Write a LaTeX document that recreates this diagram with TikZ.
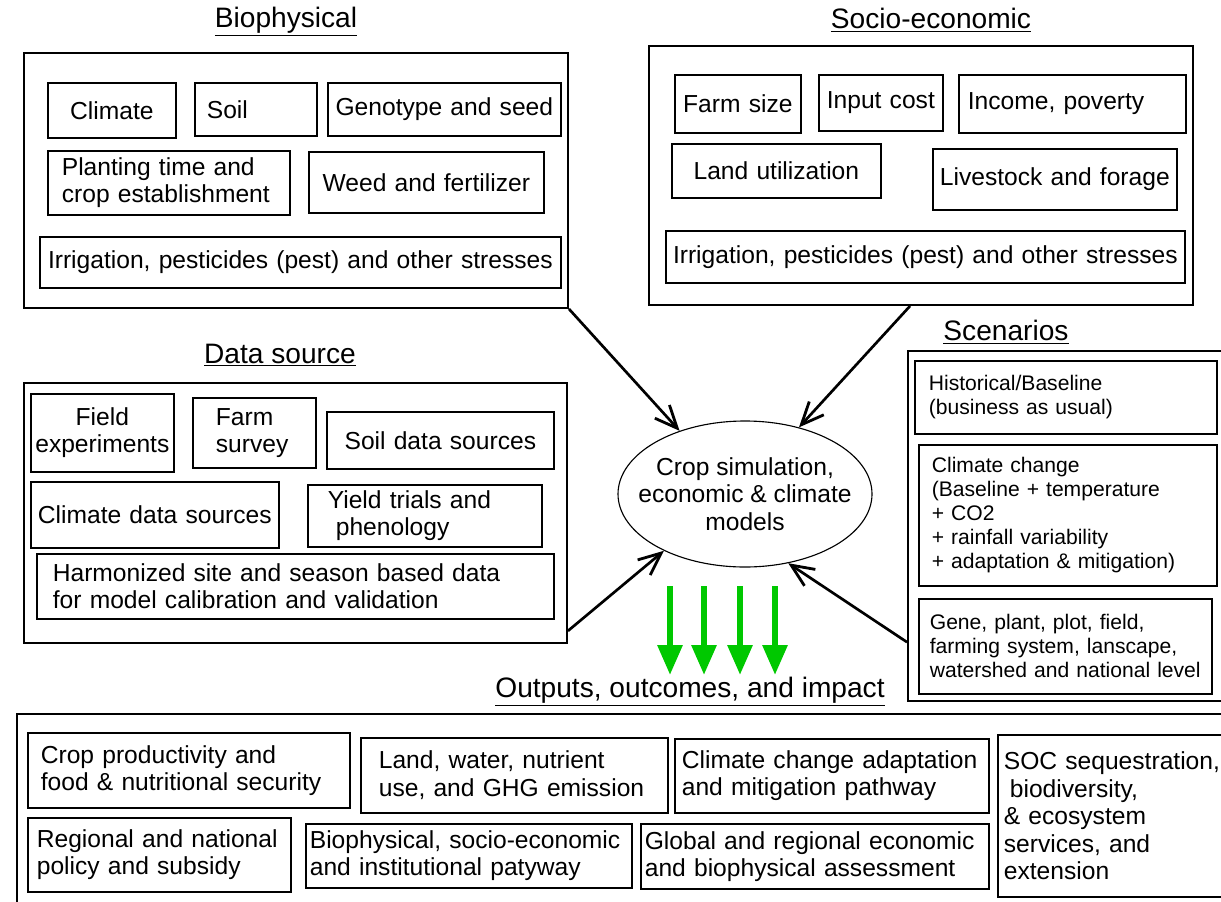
\documentclass[tikz,border=0pt]{standalone}
\usepackage{fontspec}
\setmainfont{Liberation Sans}
\usetikzlibrary{arrows.meta,calc,shapes.geometric}

\definecolor{arrowgreen}{RGB}{0,200,0}
\def\pxu{0.025cm}
\newcommand{\boxfont}{\fontsize{17.5}{19.5}\selectfont}
\newcommand{\scenfont}{\fontsize{15}{17}\selectfont}
\newcommand{\titlefont}{\fontsize{20}{24}\selectfont}

\tikzset{
  outer/.style 2 args={draw, line width=1.4pt, anchor=north west, inner sep=0pt,
    minimum width=#1*\pxu, minimum height=#2*\pxu},
  bx/.style n args={3}{draw, line width=1.2pt, anchor=north west, inner sep=0pt,
    minimum width=#1*\pxu, minimum height=#2*\pxu, text width=(#1-2*#3)*\pxu,
    align=left, font=\boxfont},
  bxc/.style 2 args={draw, line width=1.2pt, anchor=north west, inner sep=0pt,
    minimum width=#1*\pxu, minimum height=#2*\pxu, text width=(#1-4)*\pxu,
    align=center, font=\boxfont},
  ttl/.style={font=\titlefont, inner sep=0pt},
  feed/.style={line width=1.9pt, -{Straight Barb[length=16pt, width=14pt, line width=2pt]}},
  outflow/.style={arrowgreen, line width=4.3pt, -{Triangle[length=0.75cm, width=0.6cm]}},
}

\begin{document}
\begin{tikzpicture}[x=0.025cm, y=-0.025cm]
    \useasboundingbox (0,0) rectangle (1221,901);

    % Biophysical
    \node[ttl] (bioT) at (286,22) {\underline{Biophysical}};
    \node[outer={544}{255}] (bio) at (23,52) {};
    \node[bxc={128}{55}] (clim) at (47,82) {Climate};
    \node[bx={122}{53}{12}] (soil) at (194,82) {Soil};
    \node[bxc={233}{53}] (geno) at (327,82) {Genotype and seed};
    \node[bx={242}{64}{14}] (plant) at (47,150) {Planting time and\\crop establishment};
    \node[bxc={235}{61}] (weed) at (308,151) {Weed and fertilizer\\[0.3cm]};
    \node[bxc={521}{51}] (irrA) at (39,236) {Irrigation, pesticides (pest) and other stresses};

    % Socio-economic
    \node[ttl] (socT) at (931,20) {\underline{Socio-economic}};
    \node[outer={544}{259}] (socio) at (648,45) {};
    \node[bxc={126}{58}] (fsize) at (674,74) {Farm size};
    \node[bxc={124}{56}] (icost) at (818,74) {Input cost};
    \node[bx={227}{58}{9}] (income) at (958,74) {Income, poverty};
    \node[bxc={209}{54}] (land) at (671,143) {Land utilization};
    \node[bxc={244}{61}] (live) at (932,148) {Livestock and forage};
    \node[bxc={519}{52}] (irrB) at (665,230) {Irrigation, pesticides (pest) and other stresses};

    % Data source
    \node[ttl] (datT) at (280,355) {\underline{Data source}};
    \node[outer={543}{260}] (data) at (23,382) {};
    \node[bxc={143}{78}] (field) at (30,393) {Field\\experiments};
    \node[bx={123}{70}{23}] (survey) at (192,397) {Farm\\survey};
    \node[bxc={227}{57}] (soilds) at (326,411) {Soil data sources};
    \node[bxc={248}{66}] (climds) at (30,481) {Climate data sources};
    \node[bx={234}{62}{20}] (yield) at (307,484) {Yield trials and\\\hspace*{0.2cm}phenology};
    \node[bx={517}{65}{16}] (harm) at (36,553) {Harmonized site and season based data\\for model calibration and validation};

    % Scenarios
    \node[ttl] (scnT) at (1006,332) {\underline{Scenarios}};
    \node[outer={330}{350}] (scen) at (907,350) {};
    \node[bx={302}{73}{14}, font=\scenfont] (hist) at (914,360) {Historical/Baseline\\(business as usual)};
    \node[bx={298}{141}{13}, font=\scenfont] (ccs) at (918,444) {Climate change\\(Baseline + temperature\\+ CO2\\+ rainfall variability\\+ adaptation \& mitigation)};
    \node[bx={293}{95}{11}, font=\scenfont] (gene) at (918,598) {Gene, plant, plot, field,\\farming system, lanscape,\\watershed and national level};

    % models in the middle
    \node[draw, ellipse, line width=0.8pt, inner sep=0pt,
          minimum width=254*\pxu, minimum height=146*\pxu] (model) at (745,494) {};
    \node[font=\boxfont, align=center] (modelT) at (model.center) {Crop simulation,\\economic \& climate\\models};

    % Outputs
    \node[ttl] (outT) at (690,692) {\underline{Outputs, outcomes, and impact}};
    \node[outer={1214}{210}] (outp) at (16,713) {};
    \node[bx={322}{75}{13}] (cprod) at (27,732) {Crop productivity and\\food \& nutritional security};
    \node[bx={307}{75}{18}] (lwn) at (360,737) {Land, water, nutrient\\use, and GHG emission};
    \node[bx={314}{74}{7}] (ccam) at (674,738) {Climate change adaptation\\and mitigation pathway};
    \node[bx={233}{162}{6}] (soc) at (997,734) {SOC sequestration,\\\hspace*{0.15cm}biodiversity,\\\& ecosystem\\services, and\\extension};
    \node[bx={263}{74}{9}] (reg) at (27,817) {Regional and national\\policy and subsidy};
    \node[bx={326}{64}{4}] (bsoc) at (305,823) {Biophysical, socio-economic\\and institutional patyway};
    \node[bx={348}{65}{4}] (glob) at (640,823) {Global and regional economic\\and biophysical assessment};

    % arrows into the models
    \draw[feed] (bio.south east) -- (model.136);
    \draw[feed] ($(socio.south west)!0.48!(socio.south east)$) -- (model.51);
    \draw[feed] ($(data.south east)!0.05!(data.north east)$) -- (model.215);
    \draw[feed] ($(scen.south west)!0.17!(scen.north west)$) -- (model.302);

    % green arrows down to outputs
    \foreach \gx [count=\i] in {670,704,740,775} {
        \coordinate (gs\i) at (\gx,586);
        \coordinate (ge\i) at (\gx,675);
        \draw[outflow] (gs\i) -- (ge\i);
    }
\end{tikzpicture}
\end{document}
